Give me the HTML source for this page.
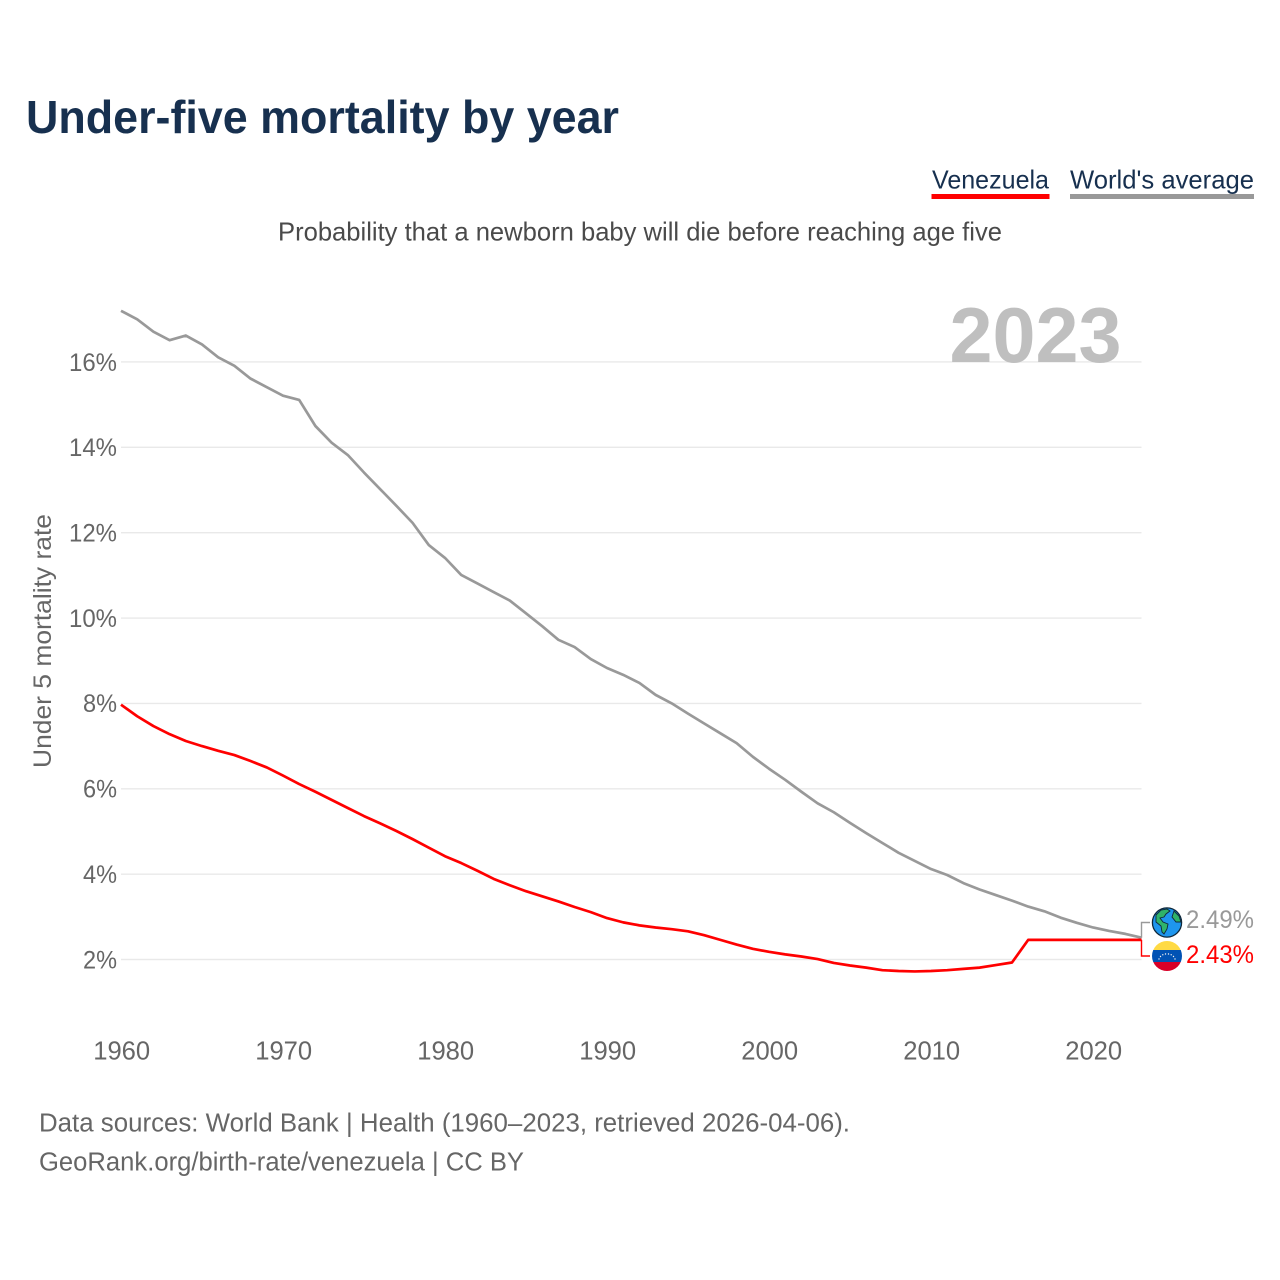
<!DOCTYPE html>
<html lang="en">
<head>
<meta charset="utf-8">
<title>Under-five mortality by year</title>
<style>
html,body{margin:0;padding:0;background:#fff;width:1280px;height:1280px;overflow:hidden}
svg{display:block}
text{font-family:"Liberation Sans",sans-serif}
</style>
</head>
<body>
<svg id="chart" xmlns="http://www.w3.org/2000/svg" width="1280" height="1280" viewBox="0 0 1280 1280">
  <rect x="0" y="0" width="1280" height="1280" fill="#fff"/>
  <text x="26" y="133" font-size="46" font-weight="700" fill="#17304f" textLength="593" lengthAdjust="spacingAndGlyphs">Under-five mortality by year</text>

  <g>
    <text x="932" y="188.5" font-size="26" fill="#17304f" textLength="117" lengthAdjust="spacingAndGlyphs">Venezuela</text>
    <rect x="931.5" y="194" width="118" height="5" fill="#ff0000"/>
  </g>
  <g>
    <text x="1070" y="188.5" font-size="26" fill="#17304f" textLength="184" lengthAdjust="spacingAndGlyphs">World's average</text>
    <rect x="1070" y="194" width="184" height="5" fill="#999999"/>
  </g>

  <text x="278" y="240.5" font-size="26" fill="#4a4a4a" textLength="724" lengthAdjust="spacingAndGlyphs">Probability that a newborn baby will die before reaching age five</text>

  <g id="grid"></g>

  <text x="949.5" y="362" font-size="78" font-weight="700" fill="#bfbfbf" textLength="172" lengthAdjust="spacingAndGlyphs">2023</text>

  <g id="yticks"></g>
  <g id="xticks"></g>
  <text transform="translate(51 768) rotate(-90)" x="0" y="0" font-size="25" fill="#666666" textLength="254" lengthAdjust="spacingAndGlyphs">Under 5 mortality rate</text>

  <g id="series"></g>

  <g>
    <circle cx="1167" cy="922.5" r="14.6" fill="#1e96ee" stroke="#10283a" stroke-width="1.3"/>
    <path d="M1156 915 L1161 910 L1167 909 L1170 911 L1166 914 L1164 917 L1160 918 L1163 922 L1168 924 L1167 929 L1164 934 L1162 932 L1161 926 L1156 922 Z" fill="#2fb36a" stroke="#10283a" stroke-width=".9"/>
    <path d="M1174 911 L1179 916 L1181 922 L1176 922 L1172 917 Z" fill="#2fb36a" stroke="#10283a" stroke-width=".9"/>
  </g>
  <g>
    <clipPath id="flag-clip"><circle cx="1167" cy="956" r="15"/></clipPath>
    <g clip-path="url(#flag-clip)">
      <rect x="1152" y="941" width="30" height="9" fill="#ffda44"/>
      <rect x="1152" y="950" width="30" height="12" fill="#0052b4"/>
      <rect x="1152" y="962" width="30" height="9" fill="#d80027"/>
      <g fill="#f0f0f0">
        <circle cx="1159" cy="959" r=".7"/><circle cx="1160.5" cy="956.5" r=".7"/><circle cx="1162.8" cy="954.8" r=".7"/><circle cx="1165.5" cy="954" r=".7"/><circle cx="1168.5" cy="954" r=".7"/><circle cx="1171.2" cy="954.8" r=".7"/><circle cx="1173.5" cy="956.5" r=".7"/><circle cx="1175" cy="959" r=".7"/>
      </g>
    </g>
  </g>

  <g id="endlabels"></g>

  <text x="39" y="1131.5" font-size="25.5" fill="#666666" textLength="811" lengthAdjust="spacingAndGlyphs">Data sources: World Bank | Health (1960–2023, retrieved 2026-04-06).</text>
  <text x="39" y="1170.5" font-size="25.5" fill="#666666" textLength="485" lengthAdjust="spacingAndGlyphs">GeoRank.org/birth-rate/venezuela | CC BY</text>
</svg>
<script>
const firstYear = 1960;
const yTicks = [2, 4, 6, 8, 10, 12, 14, 16];
const xTicks = [1960, 1970, 1980, 1990, 2000, 2010, 2020];
const worldValues = [17.2, 17.0, 16.71, 16.51, 16.62, 16.41, 16.11, 15.91, 15.61, 15.41, 15.21, 15.11, 14.5, 14.11, 13.82, 13.41, 13.02, 12.63, 12.23, 11.71, 11.41, 11.01, 10.81, 10.61, 10.41, 10.11, 9.81, 9.49, 9.32, 9.04, 8.83, 8.67, 8.48, 8.2, 8.0, 7.76, 7.53, 7.3, 7.07, 6.75, 6.47, 6.21, 5.93, 5.66, 5.45, 5.2, 4.96, 4.73, 4.5, 4.31, 4.12, 3.98, 3.79, 3.64, 3.51, 3.38, 3.24, 3.13, 2.98, 2.86, 2.75, 2.67, 2.6, 2.51];
const venezuelaValues = [7.97, 7.7, 7.47, 7.28, 7.12, 7.0, 6.89, 6.79, 6.65, 6.5, 6.31, 6.11, 5.93, 5.74, 5.55, 5.36, 5.19, 5.01, 4.82, 4.62, 4.42, 4.26, 4.08, 3.89, 3.74, 3.6, 3.48, 3.36, 3.23, 3.11, 2.97, 2.87, 2.8, 2.75, 2.71, 2.66, 2.57, 2.46, 2.35, 2.25, 2.18, 2.12, 2.07, 2.01, 1.92, 1.86, 1.81, 1.75, 1.73, 1.72, 1.73, 1.75, 1.78, 1.81, 1.87, 1.93, 2.46, 2.46, 2.46, 2.46, 2.46, 2.46, 2.46, 2.46];
const worldEndLabel = '2.49%';
const venezuelaEndLabel = '2.43%';

const NS = 'http://www.w3.org/2000/svg';
const xAxis = (year) => 121 + (year - firstYear) * 16.2;
const yAxis = (value) => 959.5 - (value - 2) * 42.68;
const plotRight = 1141.5;

function make(tag, attrs, parent, text) {
  const el = document.createElementNS(NS, tag);
  for (const k in attrs) el.setAttribute(k, attrs[k]);
  if (text !== undefined) el.textContent = text;
  parent.appendChild(el);
  return el;
}

const grid = document.getElementById('grid');
const yGroup = document.getElementById('yticks');
yTicks.forEach((v) => {
  const line = make('line', {x1: 121, x2: plotRight, y1: yAxis(v), y2: yAxis(v), stroke: '#e9e9e9', 'stroke-width': 1.4}, grid);
  
  
  const label = v + '%';
  const t = make('text', {x: 117, y: yAxis(v) + 8.8, 'text-anchor': 'end', 'font-size': 25, fill: '#666666', textLength: label.length === 3 ? 48 : 34, lengthAdjust: 'spacingAndGlyphs'}, yGroup, label);
  
  
});

const xGroup = document.getElementById('xticks');
xTicks.forEach((yr) => {
  const t = make('text', {x: xAxis(yr) + 0.7, y: 1059.5, 'text-anchor': 'middle', 'font-size': 25.6, fill: '#666666'}, xGroup, String(yr));
  
  
});

function linePath(values) {
  return values.map((v, i) => (i ? 'L' : 'M') + xAxis(firstYear + i).toFixed(2) + ' ' + yAxis(v).toFixed(2)).join(' ');
}

const series = document.getElementById('series');
const worldLine = make('path', {d: linePath(worldValues), fill: 'none', stroke: '#999999', 'stroke-width': 2.7, 'stroke-linejoin': 'round'}, series);


const venezuelaLine = make('path', {d: linePath(venezuelaValues), fill: 'none', stroke: '#ff0000', 'stroke-width': 2.7, 'stroke-linejoin': 'round'}, series);



const worldEndY = yAxis(worldValues[worldValues.length - 1]);
const venezuelaEndY = yAxis(venezuelaValues[venezuelaValues.length - 1]);
const worldLink = make('path', {d: 'M' + plotRight + ' ' + worldEndY + ' V922.5 H1150', fill: 'none', stroke: '#999999', 'stroke-width': 1.4}, series);


const venezuelaLink = make('path', {d: 'M' + plotRight + ' ' + venezuelaEndY + ' V956 H1150', fill: 'none', stroke: '#ff0000', 'stroke-width': 1.4}, series);



const endGroup = document.getElementById('endlabels');
const worldText = make('text', {x: 1186, y: 928, 'font-size': 25, fill: '#999999', textLength: 68, lengthAdjust: 'spacingAndGlyphs'}, endGroup, worldEndLabel);


const venezuelaText = make('text', {x: 1186, y: 963, 'font-size': 25, fill: '#ff0000', textLength: 68, lengthAdjust: 'spacingAndGlyphs'}, endGroup, venezuelaEndLabel);


</script>
</body>
</html>
